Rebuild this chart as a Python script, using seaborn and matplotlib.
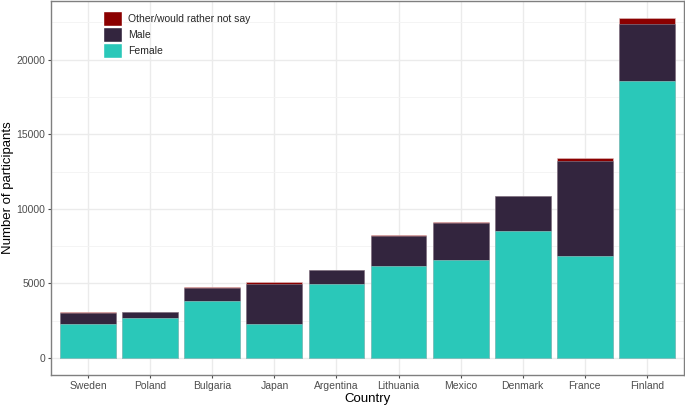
import numpy as np
import pandas as pd
import matplotlib
matplotlib.use('Agg')
import matplotlib.pyplot as plt
import seaborn as sns
from matplotlib.patches import Patch
from matplotlib.ticker import MultipleLocator

# Dados
paises = ['Sweden', 'Poland', 'Bulgaria', 'Japan', 'Argentina',
          'Lithuania', 'Mexico', 'Denmark', 'France', 'Finland']
feminino = [2290, 2670, 3850, 2250, 4930, 6180, 6580, 8490, 6850, 18590]
masculino = [730, 400, 820, 2730, 940, 2000, 2490, 2350, 6350, 3800]
outros = [60, 40, 110, 90, 50, 70, 50, 40, 190, 420]

cor_fem = '#2ac8b9'
cor_masc = '#33253e'
cor_outro = '#8b0000'

sns.set_theme(style='white')
plt.rcParams['font.family'] = ['Liberation Sans', 'DejaVu Sans']

df = pd.DataFrame({'Country': paises, 'Female': feminino,
                   'Male': masculino, 'Other': outros})
df['fm'] = df['Female'] + df['Male']
df['total'] = df['fm'] + df['Other']

fig, ax = plt.subplots(figsize=(6.85, 4.07), dpi=100)

# barras empilhadas: total, depois feminino+masculino, depois feminino
sns.barplot(data=df, x='Country', y='total', order=paises, color=cor_outro,
            width=0.9, saturation=1, edgecolor='#e0c0c0', linewidth=0.4, ax=ax)
sns.barplot(data=df, x='Country', y='fm', order=paises, color=cor_masc,
            width=0.9, saturation=1, edgecolor='#8a8a9a', linewidth=0.4, ax=ax)
sns.barplot(data=df, x='Country', y='Female', order=paises, color=cor_fem,
            width=0.9, saturation=1, edgecolor='#9adcd4', linewidth=0.4, ax=ax)

ymax = df['total'].max()
ax.set_ylim(-0.05 * ymax, 1.05 * ymax)
ax.set_xlim(-0.6, len(paises) - 0.4)
ax.yaxis.set_major_locator(MultipleLocator(5000))
ax.yaxis.set_minor_locator(MultipleLocator(2500))

ax.set_axisbelow(True)
ax.grid(which='major', color='#ebebeb', linewidth=1.0)
ax.grid(which='minor', axis='y', color='#f3f3f3', linewidth=0.6)
for s in ax.spines.values():
    s.set_color('#7f7f7f')
    s.set_linewidth(1.0)

ax.tick_params(axis='both', which='major', length=2.5, width=0.8, color='#4d4d4d',
               labelsize=7.5, labelcolor='#4d4d4d', pad=1.5, bottom=True, left=True)
ax.tick_params(axis='y', which='minor', length=0)
ax.set_xlabel('Country', fontsize=9.5, color='black', labelpad=2)
ax.set_ylabel('Number of participants', fontsize=9.5, color='black', labelpad=2)

legenda = [
    Patch(facecolor=cor_outro, edgecolor='white', label='Other/would rather not say'),
    Patch(facecolor=cor_masc, edgecolor='white', label='Male'),
    Patch(facecolor=cor_fem, edgecolor='white', label='Female'),
]
ax.legend(handles=legenda, loc='upper left', bbox_to_anchor=(0.082, 0.972),
          frameon=False, fontsize=7.5, handlelength=1.8, handleheight=1.8,
          labelspacing=0.12, handletextpad=0.65, borderaxespad=0, borderpad=0)

fig.subplots_adjust(left=0.0745, right=0.9985, top=0.998, bottom=0.0786)
plt.savefig('out.png', dpi=100)
plt.close()
